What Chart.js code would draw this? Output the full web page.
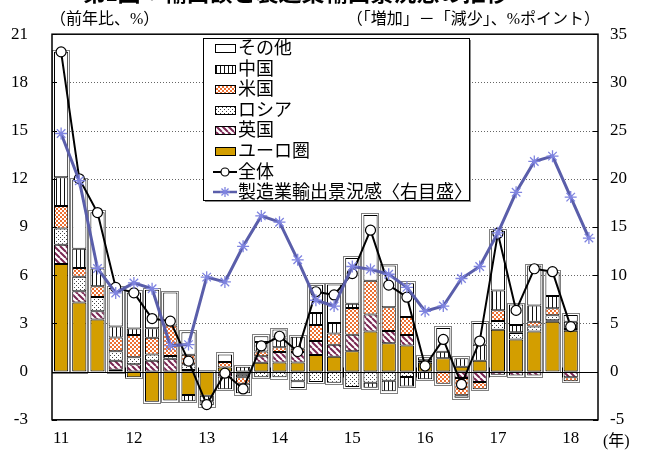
<!DOCTYPE html>
<html>
<head>
<meta charset="utf-8">
<script src="https://cdn.jsdelivr.net/npm/chart.js@4.4.1/dist/chart.umd.min.js"></script>
<style>
  body { margin: 0; background: #fff; }
  #wrap { position: relative; width: 646px; height: 454px; overflow: hidden; font-family: "Liberation Serif", "Noto Sans CJK JP", serif; }
  #c { position: absolute; left: 0; top: 0; }
  .t { position: absolute; white-space: nowrap; color: #000; line-height: 1; }
</style>
</head>
<body>
<div id="wrap">
  <canvas id="c" width="646" height="454"></canvas>
  <div class="t" style="left:83px;top:-18px;font-size:23px;font-weight:bold;">第2図：輸出額と製造業輸出景況感の推移</div>
  <div class="t" style="left:50px;top:11px;font-size:16px;">（前年比、%）</div>
  <div class="t" style="right:46px;top:11px;font-size:16px;">（「増加」－「減少」、%ポイント）</div>
  <div class="t" style="left:603px;top:433px;font-size:16px;">(年)</div>
</div>
<script>
// ---- data ----
const quarters = [
  '11Q1','11Q2','11Q3','11Q4','12Q1','12Q2','12Q3','12Q4',
  '13Q1','13Q2','13Q3','13Q4','14Q1','14Q2','14Q3','14Q4',
  '15Q1','15Q2','15Q3','15Q4','16Q1','16Q2','16Q3','16Q4',
  '17Q1','17Q2','17Q3','17Q4','18Q1','18Q2'
];
const yearTicks = [
  '11','','','','12','','','','13','','','','14','','','',
  '15','','','','16','','','','17','','','','18',''
];

// contributions (%pt), stacked
const euro   = [6.7, 4.3, 3.25, 0.12, -0.35, -1.88, -1.8, -1.45, -1.5, 0.25, -0.1, 0.55, 0.57, 0.57, 1.04, 0.92, 1.27, 2.5, 1.77, 1.63, 0.55, 0.83, 0.3, 0.67, 2.6, 2.0, 2.5, 3.1, 2.55, null];
const uk     = [1.2, 0.7, 0.5, 0.55, 0.45, 0.67, 0.8, 0.1, null, -0.3, -0.1, 0.4, 0.65, 0.65, 0.86, 0.75, 1.02, 1.05, 0.75, 0.65, 0.05, null, -0.4, -0.65, -0.2, -0.25, -0.25, 0.1, -0.35, null];
const russia = [1.0, 0.9, 0.9, 0.6, 0.45, 0.4, 0.17, 0.35, null, null, -0.15, -0.35, -0.35, -0.6, -0.65, -0.7, -0.96, -0.7, -0.57, -0.33, null, null, null, null, 0.55, 0.4, 0.3, 0.3, 0.1, null];
const us     = [1.4, 0.55, 0.67, 0.86, 1.38, 1.03, 1.9, 0.6, null, 0.35, -0.4, 0.3, 0.3, 0.2, 1.0, 0.7, 1.67, 2.1, 1.48, 1.12, 0.1, -0.75, -1.07, -0.45, 0.67, 0.05, 0.3, 0.44, -0.25, null];
const china  = [1.8, 1.2, 1.1, 0.67, 0.4, 0.6, null, -0.4, -0.35, -0.8, 0.3, 0.6, 0.6, 0.75, 0.75, 0.65, 0.27, -0.3, -0.65, -0.6, -0.47, 0.41, 0.53, 1.0, 1.23, 0.45, 1.02, 0.77, 0.45, null];
const other  = [7.8, 4.3, 3.5, 2.4, 2.25, 2.4, 2.05, 1.4, -0.25, 0.47, -0.6, 0.35, 0.5, -0.42, 1.75, 2.4, 2.84, 4.1, 2.6, 2.1, 0.2, 1.48, -0.16, 1.35, 3.72, 1.27, 2.48, 1.47, 0.42, null];

// total exports (%, y/y)
const total  = [19.9, 12.0, 9.9, 5.24, 4.9, 3.3, 3.14, 0.65, -2.05, -0.1, -1.08, 1.6, 2.2, 1.25, 4.97, 4.77, 6.1, 8.8, 5.38, 4.63, 0.35, 2.0, -0.8, 1.9, 8.6, 3.81, 6.4, 6.22, 2.8, null];
// manufacturing export sentiment (right axis)
const sentiment = [24.7, 19.8, 10.7, 8.16, 9.2, 8.6, 2.7, 2.8, 9.8, 9.3, 13.0, 16.15, 15.5, 11.6, 7.4, 6.8, 10.9, 10.6, 10.1, 8.74, 6.26, 6.8, 9.66, 10.9, 14.4, 18.6, 21.8, 22.35, 18.1, 13.85];

const legendLabels = ['その他', '中国', '米国', 'ロシア', '英国', 'ユーロ圏', '全体', '製造業輸出景況感〈右目盛〉'];

// ---- patterns ----
const canvas = document.getElementById('c');
const ctx = canvas.getContext('2d');

function makePattern(w, h, draw) {
  const c = document.createElement('canvas');
  c.width = w; c.height = h;
  const g = c.getContext('2d');
  draw(g, w, h);
  return ctx.createPattern(c, 'repeat');
}

const GOLD = '#D39E00';
const BLUE = '#5A5EAA';

const patChina = makePattern(4, 4, (g) => {
  g.fillStyle = '#fff'; g.fillRect(0, 0, 4, 4);
  g.fillStyle = '#111'; g.fillRect(0, 0, 1, 4);
});
const patUS = makePattern(4, 4, (g) => {
  g.fillStyle = '#fff'; g.fillRect(0, 0, 4, 4);
  g.fillStyle = '#EC7032';
  g.fillRect(0, 0, 2, 2); g.fillRect(2, 2, 2, 2);
});
const patRussia = makePattern(4, 4, (g) => {
  g.fillStyle = '#fff'; g.fillRect(0, 0, 4, 4);
  g.fillStyle = '#444';
  g.fillRect(0, 1, 1, 1); g.fillRect(2, 3, 1, 1);
});
const patUK = makePattern(6, 6, (g) => {
  g.fillStyle = '#fff'; g.fillRect(0, 0, 6, 6);
  g.strokeStyle = '#7A2752'; g.lineWidth = 2;
  g.beginPath();
  [-6, 0, 6].forEach(o => { g.moveTo(o, 0); g.lineTo(o + 6, 6); });
  g.stroke();
});

const barStyle = (label, data, fill) => ({
  type: 'bar', label, data, backgroundColor: fill,
  borderColor: '#000', borderWidth: 1, borderSkipped: false,
  stack: 'exp', yAxisID: 'y', order: 1,
  barPercentage: 0.78, categoryPercentage: 1.0
});

// ---- custom drawing: grid, zero line, frame, legend ----
const decor = {
  id: 'decor',
  beforeDatasetsDraw(chart) {
    const { ctx: c, chartArea: a, scales } = chart;
    c.save();
    c.strokeStyle = '#666'; c.lineWidth = 1; c.setLineDash([1, 2]);
    for (let v = 3; v <= 18; v += 3) {
      const y = Math.round(scales.y.getPixelForValue(v)) + 0.5;
      c.beginPath(); c.moveTo(a.left, y); c.lineTo(a.right, y); c.stroke();
    }
    c.restore();
  },
  afterDatasetDraw(chart, args) {
    if (args.index !== 0) return;
    const { ctx: c, chartArea: a, scales } = chart;
    // grey outline round each whole bar
    c.save();
    c.strokeStyle = '#808080'; c.lineWidth = 1;
    for (let i = 0; i < quarters.length; i++) {
      let lo = Infinity, hi = -Infinity, x = null, w = 0;
      for (let d = 0; d < 6; d++) {
        const el = chart.getDatasetMeta(d).data[i];
        if (!el || chart.data.datasets[d].data[i] == null) continue;
        lo = Math.min(lo, el.y, el.base); hi = Math.max(hi, el.y, el.base);
        x = el.x; w = el.width;
      }
      if (x === null) continue;
      c.strokeRect(Math.round(x - w / 2) - 1.5, Math.round(lo) - 1.5, Math.round(w) + 3, Math.round(hi - lo) + 3);
    }
    // zero line and year ticks
    const y0 = Math.round(scales.y.getPixelForValue(0)) + 0.5;
    c.strokeStyle = '#000'; c.lineWidth = 1;
    c.beginPath(); c.moveTo(a.left, y0); c.lineTo(a.right, y0); c.stroke();
    for (let k = 4; k < quarters.length; k += 4) {
      const x = Math.round((scales.x.getPixelForValue(k - 1) + scales.x.getPixelForValue(k)) / 2) + 0.5;
      c.beginPath(); c.moveTo(x, y0 - 5); c.lineTo(x, y0 + 5); c.stroke();
    }
    c.restore();
  },
  afterDraw(chart) {
    const { ctx: c, chartArea: a, scales } = chart;
    c.save();
    // plot frame + inward ticks
    c.strokeStyle = '#000'; c.lineWidth = 1.5;
    c.strokeRect(a.left, a.top, a.right - a.left, a.bottom - a.top);
    c.lineWidth = 1;
    for (let v = -3; v <= 21; v += 3) {
      const y = Math.round(scales.y.getPixelForValue(v)) + 0.5;
      c.beginPath();
      c.moveTo(a.left, y); c.lineTo(a.left + 5, y);
      c.moveTo(a.right, y); c.lineTo(a.right - 5, y);
      c.stroke();
    }
    // legend box
    const bx = 203, by = 38, bw = 266, bh = 162;
    c.fillStyle = '#8a8a8a'; c.fillRect(bx + 2, by + 2, bw, bh);
    c.fillStyle = '#fff'; c.fillRect(bx, by, bw, bh);
    c.strokeStyle = '#000'; c.lineWidth = 1;
    c.strokeRect(bx + 0.5, by + 0.5, bw, bh);
    const fills = [ '#fff', patChina, patUS, patRussia, patUK, GOLD ];
    c.font = '18px "Liberation Serif", "Noto Sans CJK JP"';
    c.textBaseline = 'middle'; c.textAlign = 'left';
    legendLabels.forEach((txt, i) => {
      const cy = Math.round(48 + i * 20.6);
      if (i < 6) {
        c.fillStyle = fills[i]; c.fillRect(215, cy - 4, 21, 8);
        c.strokeStyle = '#000'; c.lineWidth = 1; c.strokeRect(215.5, cy - 3.5, 20, 8);
      } else if (i === 6) {
        c.strokeStyle = '#000'; c.lineWidth = 2;
        c.beginPath(); c.moveTo(213, cy); c.lineTo(237, cy); c.stroke();
        c.fillStyle = '#fff'; c.lineWidth = 1.2;
        c.beginPath(); c.arc(225, cy, 4, 0, Math.PI * 2); c.fill(); c.stroke();
      } else {
        c.strokeStyle = BLUE; c.lineWidth = 2.5;
        c.beginPath(); c.moveTo(213, cy); c.lineTo(237, cy); c.stroke();
        c.strokeStyle = '#7F84E0'; c.lineWidth = 1.3;
        c.beginPath();
        for (let k = 0; k < 4; k++) {
          const ang = k * Math.PI / 4;
          c.moveTo(225 - 5 * Math.cos(ang), cy - 5 * Math.sin(ang));
          c.lineTo(225 + 5 * Math.cos(ang), cy + 5 * Math.sin(ang));
        }
        c.stroke();
      }
      c.fillStyle = '#000';
      c.fillText(txt, 238, cy + 1);
    });
    c.restore();
  }
};

const tickFont = { family: 'Liberation Serif', size: 17 };

new Chart(canvas, {
  data: {
    labels: quarters,
    datasets: [
      barStyle('ユーロ圏', euro, GOLD),
      barStyle('英国', uk, patUK),
      barStyle('ロシア', russia, patRussia),
      barStyle('米国', us, patUS),
      barStyle('中国', china, patChina),
      barStyle('その他', other, '#fff'),
      {
        type: 'line', label: '全体', data: total, yAxisID: 'y', order: 0,
        borderColor: '#000', borderWidth: 2, tension: 0,
        pointRadius: 5, pointBackgroundColor: '#fff', pointBorderColor: '#000', pointBorderWidth: 1.2
      },
      {
        type: 'line', label: '製造業輸出景況感〈右目盛〉', data: sentiment, yAxisID: 'y2', order: -1,
        borderColor: BLUE, borderWidth: 3, tension: 0,
        pointStyle: 'star', pointRadius: 6, pointBorderColor: '#7F84E0', pointBorderWidth: 1.3,
        pointBackgroundColor: '#7F84E0'
      }
    ]
  },
  options: {
    responsive: false,
    animation: false,
    devicePixelRatio: 1,
    layout: { padding: { top: 31, left: 0, right: 0, bottom: 0 } },
    plugins: { legend: { display: false }, tooltip: { enabled: false } },
    scales: {
      x: {
        grid: { display: false, drawTicks: false }, border: { display: false },
        ticks: { autoSkip: false, maxRotation: 0, padding: 9, color: '#000', font: tickFont,
                 callback: (v, i) => yearTicks[i] },
        afterFit: s => { s.height = 31; }
      },
      y: {
        position: 'left', min: -3, max: 21,
        grid: { display: false, drawTicks: false }, border: { display: false },
        ticks: { stepSize: 3, padding: 24, color: '#000', font: tickFont },
        afterFit: s => { s.width = 52; }
      },
      y2: {
        position: 'right', min: -5, max: 35,
        grid: { display: false, drawTicks: false }, border: { display: false },
        ticks: { stepSize: 5, padding: 12, color: '#000', font: tickFont },
        afterFit: s => { s.width = 48; }
      }
    }
  },
  plugins: [decor]
});
</script>
</body>
</html>
